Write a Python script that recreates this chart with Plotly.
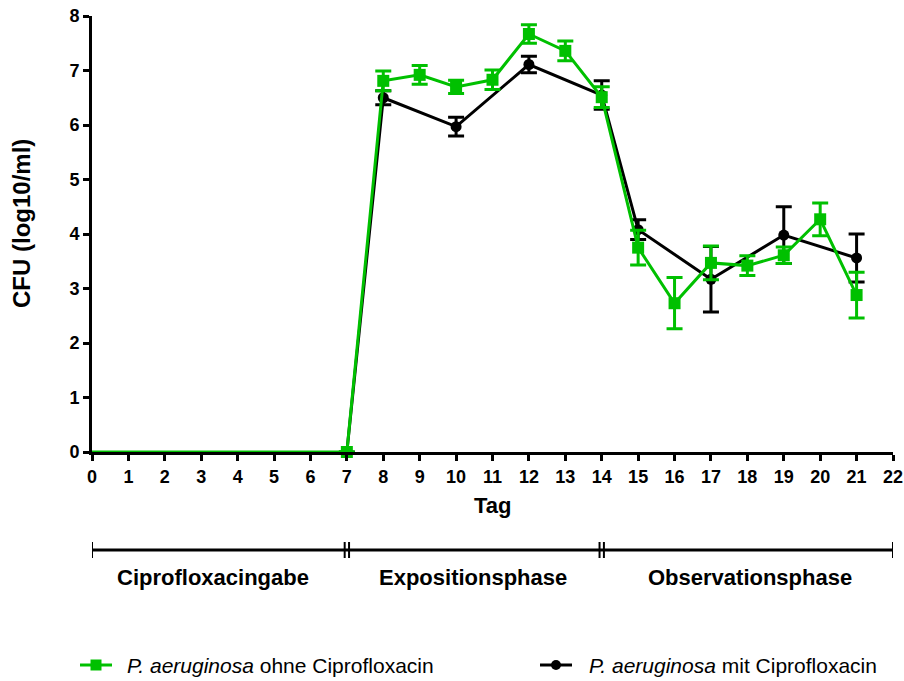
import plotly.graph_objects as go

# ---- data ----
days_baseline = [0, 1, 2, 3, 4, 5, 6, 7]
baseline_vals = [0, 0, 0, 0, 0, 0, 0, 0]

days_ohne = [7, 8, 9, 10, 11, 12, 13, 14, 15, 16, 17, 18, 19, 20, 21]
cfu_ohne = [0, 6.81, 6.92, 6.70, 6.83, 7.67, 7.36, 6.51, 3.75, 2.73, 3.47, 3.42, 3.61, 4.27, 2.88]
err_ohne = [0, 0.18, 0.17, 0.12, 0.18, 0.17, 0.18, 0.19, 0.32, 0.47, 0.31, 0.18, 0.15, 0.30, 0.42]

days_mit = [7, 8, 10, 12, 14, 15, 17, 19, 21]
cfu_mit = [0, 6.50, 5.97, 7.11, 6.55, 4.08, 3.17, 3.98, 3.56]
err_mit = [0, 0.13, 0.17, 0.15, 0.26, 0.18, 0.60, 0.52, 0.44]

x_ticks = list(range(0, 23))
y_ticks = list(range(0, 9))

phase_bounds = [0, 7, 14, 22]
phase_labels = ["Ciprofloxacingabe", "Expositionsphase", "Observationsphase"]
phase_label_pos = [3.33, 10.47, 18.08]

name_ohne = "<i>P. aeruginosa</i> ohne Ciprofloxacin"
name_mit = "<i>P. aeruginosa</i> mit Ciprofloxacin"

GREEN = "#00c000"
BLACK = "#000000"
FONT = "Liberation Sans, Arial, sans-serif"

# plot-area geometry (pixels); the page margin is removed so the figure sits at 0,0
W, H = 904, 681
L, T = 92, 16
PW, PH = 801, 436
R = W - L - PW
B = H - T - PH


def px(p):
    """screen x pixel -> paper x"""
    return (p - L) / float(PW)


def py(p):
    """screen y pixel -> paper y"""
    return (T + PH - p) / float(PH)


fig = go.Figure()

fig.add_trace(go.Scatter(
    x=days_mit, y=cfu_mit, mode="lines+markers", name=name_mit, showlegend=False,
    line=dict(color=BLACK, width=3),
    marker=dict(symbol="circle", size=11, color=BLACK),
    error_y=dict(type="data", array=err_mit, color=BLACK, thickness=3, width=8, visible=True),
    cliponaxis=False,
))
fig.add_trace(go.Scatter(
    x=days_baseline, y=baseline_vals, mode="lines", showlegend=False,
    line=dict(color=GREEN, width=3), cliponaxis=False, hoverinfo="skip",
))
fig.add_trace(go.Scatter(
    x=days_ohne, y=cfu_ohne, mode="lines+markers", name=name_ohne, showlegend=False,
    line=dict(color=GREEN, width=3),
    marker=dict(symbol="square", size=12, color=GREEN),
    error_y=dict(type="data", array=err_ohne, color=GREEN, thickness=3, width=8, visible=True),
    cliponaxis=False,
))

# phase bracket
line_y = py(550)
tick_h = 8 / float(PH)
shapes = [dict(type="line", xref="x", yref="paper", x0=phase_bounds[0], x1=phase_bounds[-1],
               y0=line_y, y1=line_y, line=dict(color=BLACK, width=3))]
for i, b in enumerate(phase_bounds):
    offsets = [0] if i in (0, len(phase_bounds) - 1) else [-0.06, 0.06]
    for o in offsets:
        shapes.append(dict(type="line", xref="x", yref="paper", x0=b + o, x1=b + o,
                           y0=line_y - tick_h, y1=line_y + tick_h,
                           line=dict(color=BLACK, width=2)))

annotations = []
for lbl, pos in zip(phase_labels, phase_label_pos):
    annotations.append(dict(text="<b>%s</b>" % lbl, x=pos, xref="x", y=py(577), yref="paper",
                            showarrow=False, font=dict(family=FONT, size=22, color=BLACK),
                            xanchor="center", yanchor="middle"))
annotations.append(dict(text="<b>Tag</b>", x=11, xref="x", y=py(505), yref="paper",
                        showarrow=False, font=dict(family=FONT, size=22, color=BLACK),
                        xanchor="center", yanchor="middle"))
annotations.append(dict(text="<b>CFU (log10/ml)</b>", x=px(21), xref="paper",
                        y=py(224), yref="paper", textangle=-90, showarrow=False,
                        font=dict(family=FONT, size=24, color=BLACK),
                        xanchor="center", yanchor="middle"))

# manual legend
legend_items = [
    (name_ohne, GREEN, "square", 80, 125),
    (name_mit, BLACK, "circle", 540, 587),
]
ly = py(665)
for name, col, sym, x0, tx in legend_items:
    shapes.append(dict(type="line", xref="paper", yref="paper", x0=px(x0), x1=px(x0 + 32),
                       y0=ly, y1=ly, line=dict(color=col, width=3)))
    cx = x0 + 16
    s = 5.5 if sym == "square" else 5
    shapes.append(dict(type="rect" if sym == "square" else "circle", xref="paper", yref="paper",
                       x0=px(cx - s), x1=px(cx + s), y0=ly - s / PH, y1=ly + s / PH,
                       fillcolor=col, line=dict(color=col, width=0)))
    annotations.append(dict(text=name, x=px(tx), xref="paper", y=ly, yref="paper",
                            showarrow=False, xanchor="left", yanchor="middle",
                            font=dict(family=FONT, size=21, color=BLACK)))

fig.update_layout(
    width=W, height=H,
    margin=dict(l=L, r=R, t=T, b=B, autoexpand=False),
    plot_bgcolor="white", paper_bgcolor="white",
    font=dict(family=FONT, color=BLACK),
    shapes=shapes, annotations=annotations, showlegend=False,
    xaxis=dict(range=[0, 22], tickvals=x_ticks, ticktext=[str(t) for t in x_ticks],
               showline=True, linewidth=3, linecolor=BLACK, showgrid=False, zeroline=False,
               ticks="outside", ticklen=6, tickwidth=2.5, tickcolor=BLACK,
               ticklabeloverflow="allow",
               tickfont=dict(family=FONT, size=18, color=BLACK, weight="bold")),
    yaxis=dict(range=[0, 8], tickvals=y_ticks, showline=True, linewidth=3, linecolor=BLACK,
               showgrid=False, zeroline=False, ticks="outside", ticklen=6, tickwidth=2.5,
               tickcolor=BLACK, ticklabeloverflow="allow",
               tickfont=dict(family=FONT, size=18, color=BLACK, weight="bold")),
)

fig.write_html("out.html", config={"displayModeBar": False},
               post_script="document.body.style.margin='0px';document.body.style.overflow='hidden';")
